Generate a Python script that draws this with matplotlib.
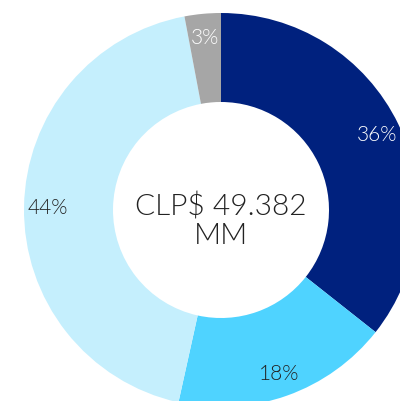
import matplotlib.pyplot as plt

shares = [36, 18, 44, 3]
colors = ['#00217E', '#4FD3FF', '#C5EFFD', '#A6A6A6']
label_colors = ['white', '#222222', '#222222', 'white']
center_text = "CLP$ 49.382\nMM"

plt.rcParams['font.family'] = ['Lato', 'DejaVu Sans']

fig = plt.figure(figsize=(4.0, 4.02), dpi=100)
ax = fig.add_axes([0, 0, 1, 1])

wedges, texts, autotexts = ax.pie(
    shares,
    colors=colors,
    startangle=90,
    counterclock=False,
    center=(221, 191),
    radius=197,
    autopct='%1.0f%%',
    pctdistance=0.88,
    wedgeprops=dict(width=89, linewidth=0),
    frame=True,
)

for t, c in zip(autotexts, label_colors):
    t.set_color(c)
    t.set_fontsize(15)
    t.set_fontweight(300)

ax.text(221, 181, center_text, ha='center', va='center',
        fontsize=21.5, fontweight=300, color='#222222', linespacing=1.1)

ax.set_xlim(0, 400)
ax.set_ylim(0, 402)
ax.set_aspect('equal')
ax.axis('off')

fig.savefig('out.png', dpi=100)
